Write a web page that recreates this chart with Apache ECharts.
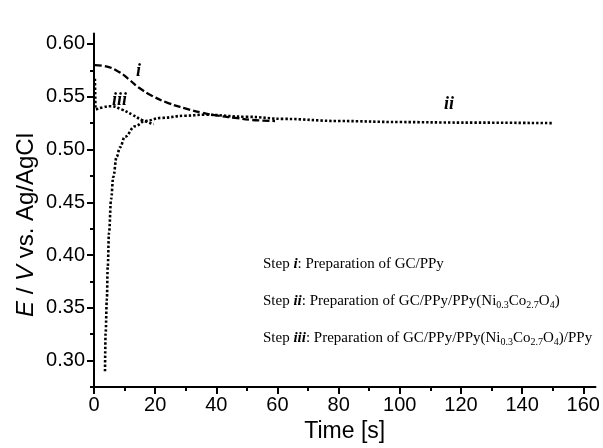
<!DOCTYPE html>
<html><head><meta charset="utf-8">
<script src="https://cdn.jsdelivr.net/npm/echarts@6/dist/echarts.min.js"></script>
<style>html,body{margin:0;padding:0;background:#fff}#c{width:603px;height:448px}</style>
</head><body><div id="c"></div>
<script>
// Curve i (dashed)
const timeI = [0.3, 3.6, 7.9, 11.2, 14.5, 18.9, 24.3, 29.8, 35.2, 40.6, 46.1, 51.6, 59.2];
const valI  = [0.580, 0.579, 0.574, 0.567, 0.559, 0.551, 0.544, 0.539, 0.535, 0.532, 0.530, 0.528, 0.527];
// Curve ii (dotted)
const timeII = [3.6, 3.8, 4.2, 4.5, 4.9, 5.6, 6.3, 7.4, 8.5, 10.1, 13.4, 16.7, 22.1, 29.8, 36, 50, 62, 80, 100, 120, 150];
const valII  = [0.290, 0.326, 0.358, 0.389, 0.421, 0.453, 0.474, 0.493, 0.502, 0.512, 0.522, 0.527, 0.530, 0.532, 0.533, 0.531, 0.529, 0.527, 0.526, 0.5255, 0.525];
// Curve iii (dotted)
const timeIII = [0.3, 0.4, 0.6, 3.0, 5.5, 9.0, 12.5, 15.6, 17.5, 19.5];
const valIII  = [0.567, 0.552, 0.538, 0.540, 0.541, 0.538, 0.533, 0.528, 0.526, 0.524];
// Axis ticks
const xLabels = [0, 20, 40, 60, 80, 100, 120, 140, 160];
const xMinor = [10, 30, 50, 70, 90, 110, 130, 150];
const yLabels = [0.30, 0.35, 0.40, 0.45, 0.50, 0.55, 0.60];
const yMinor = [0.275, 0.325, 0.375, 0.425, 0.475, 0.525, 0.575];

const zip = (a, b) => a.map((t, i) => [t, b[i]]);
const chart = echarts.init(document.getElementById('c'));
const axisFont = {fontFamily: 'Liberation Sans', fontSize: 20, color: '#000'};
const serif = 'Liberation Serif';
const stepRich = {
  n: {fontFamily: serif, fontSize: 15, color: '#000'},
  b: {fontFamily: serif, fontSize: 15, color: '#000', fontWeight: 'bold', fontStyle: 'italic'},
  s: {fontFamily: serif, fontSize: 10, color: '#000', padding: [7, 0, 0, 0]}
};
chart.setOption({
  animation: false,
  grid: {left: 94, right: 7.5, top: 33.4, bottom: 61},
  xAxis: [{
    type: 'value', min: 0, max: 164,
    name: 'Time [s]', nameLocation: 'middle', nameGap: 32,
    nameTextStyle: {fontFamily: 'Liberation Sans', fontSize: 23, color: '#000'},
    axisLine: {lineStyle: {color: '#000', width: 2}},
    axisTick: {length: 7, lineStyle: {color: '#000', width: 2}, customValues: xLabels},
    axisLabel: Object.assign({margin: 8, customValues: xLabels}, axisFont),
    splitLine: {show: false}
  }, {
    type: 'value', min: 0, max: 164, position: 'bottom',
    axisLine: {show: false},
    axisTick: {length: 4, lineStyle: {color: '#000', width: 2}, customValues: xMinor},
    axisLabel: {show: false}, splitLine: {show: false}
  }],
  yAxis: [{
    type: 'value', min: 0.275, max: 0.61,
    axisLine: {lineStyle: {color: '#000', width: 2}},
    axisTick: {length: 7, lineStyle: {color: '#000', width: 2}, customValues: yLabels},
    axisLabel: Object.assign({margin: 9, customValues: yLabels, formatter: v => v.toFixed(2)}, axisFont),
    splitLine: {show: false}
  }, {
    type: 'value', min: 0.275, max: 0.61, position: 'left',
    axisLine: {show: false},
    axisTick: {length: 4, lineStyle: {color: '#000', width: 2}, customValues: yMinor},
    axisLabel: {show: false}, splitLine: {show: false}
  }],
  series: [
    {type: 'line', data: zip(timeI, valI), showSymbol: false, smooth: 0.5,
      lineStyle: {color: '#000', width: 2.3, type: [7, 3]}},
    {type: 'line', data: zip(timeII, valII), showSymbol: false, smooth: 0.4, smoothMonotone: 'x',
      lineStyle: {color: '#000', width: 2.6, type: [2.4, 2]}},
    {type: 'line', data: zip(timeIII, valIII), showSymbol: false, smooth: 0.5,
      lineStyle: {color: '#000', width: 2.6, type: [2.4, 2]}}
  ],
  graphic: [
    {type: 'text', x: 26, y: 225, rotation: Math.PI / 2,
      style: {text: '{i|E}{n| / }{i|V}{n| vs. Ag/AgCl}', align: 'center', verticalAlign: 'middle',
        rich: {i: {fontFamily: 'Liberation Sans', fontSize: 24, fontStyle: 'italic', fill: '#000'},
               n: {fontFamily: 'Liberation Sans', fontSize: 24, fill: '#000'}}}},
    {type: 'text', left: 136, top: 62, style: {text: 'i', font: 'italic bold 18px "Liberation Serif"', fill: '#000'}},
    {type: 'text', left: 112, top: 91, style: {text: 'iii', font: 'italic bold 18px "Liberation Serif"', fill: '#000'}},
    {type: 'text', left: 444, top: 95, style: {text: 'ii', font: 'italic bold 18px "Liberation Serif"', fill: '#000'}},
    {type: 'text', left: 263, top: 257, style: {text: '{n|Step }{b|i}{n|: Preparation of GC/PPy}', rich: stepRich}},
    {type: 'text', left: 263, top: 294, style: {text: '{n|Step }{b|ii}{n|: Preparation of GC/PPy/PPy(Ni}{s|0.3}{n|Co}{s|2.7}{n|O}{s|4}{n|)}', rich: stepRich}},
    {type: 'text', left: 263, top: 331, style: {text: '{n|Step }{b|iii}{n|: Preparation of GC/PPy/PPy(Ni}{s|0.3}{n|Co}{s|2.7}{n|O}{s|4}{n|)/PPy}', rich: stepRich}}
  ]
});
</script></body></html>
